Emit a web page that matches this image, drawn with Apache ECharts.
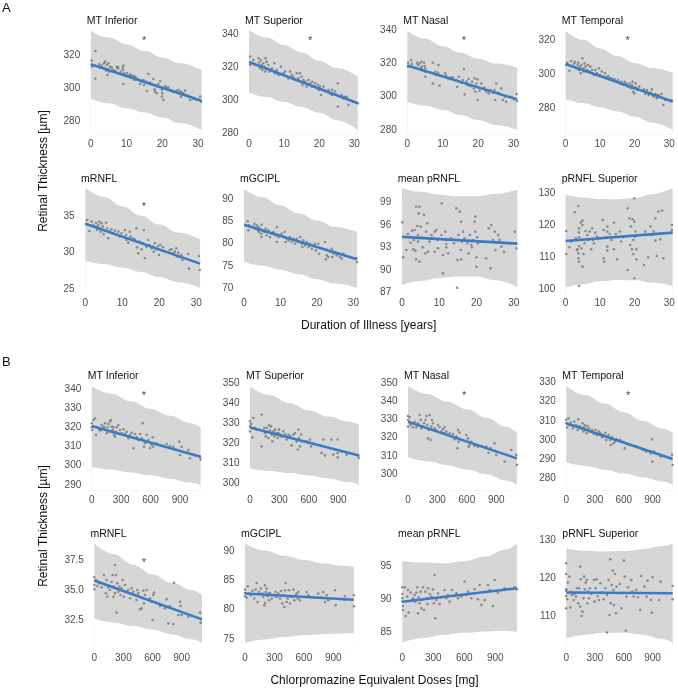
<!DOCTYPE html>
<html><head><meta charset="utf-8">
<script src="https://cdn.jsdelivr.net/npm/echarts@6/dist/echarts.min.js"></script>
<style>html,body{margin:0;padding:0;background:#fff}#c{width:678px;height:689px}</style>
</head><body><div id="c"></div>
<script>
// ---------- DATA ----------
const panelTitles = ['MT Inferior','MT Superior','MT Nasal','MT Temporal','mRNFL','mGCIPL','mean pRNFL','pRNFL Superior'];
const durTicks = [0,10,20,30];
const cpzTicks = [0,300,600,900];
const bandXDur = [0,5,10,15,20,25,31];
const bandXCpz = [0,200,400,600,800,1000,1110];
const yTicks = [
  [280,300,320],[280,300,320,340],[280,300,320,340],[280,300,320],
  [25,30,35],[70,75,80,85,90],[87,90,93,96,99],[100,110,120,130],
  [290,300,310,320,330,340],[300,310,320,330,340,350],[300,310,320,330,340,350],[280,290,300,310,320,330],
  [32.5,35.0,37.5],[75,80,85,90],[85,90,95],[110,120,130]
];
const stars = { 0:[14.9,330], 1:[17.4,337.6], 2:[16,335.2], 3:[18,320.9], 4:[15.8,36.6],
                8:[533,337.7], 10:[571,344.4], 11:[645,324.4], 12:[512,37.5] };

// A: Duration of illness
const a1Fit = [[0,314.5],[31,292.5]];
const a1Up = [334.6,330.5,326.5,322.5,318.5,315,311];
const a1Lo = [293.8,291,288,285.5,282.5,279,275];
const a1Pts = [[0.3,316.6],[0.4,313],[1.3,322.4],[1.3,305.8],[2.4,314.4],[2.6,312.4],[3.1,313.6],[3.7,315],[4.0,316],[4.1,312],[4.3,310.6],[4.5,314],[4.7,308],[4.9,311.4],[4.9,315],[5.2,310],[5.4,313],[5.9,312.4],[6.3,311],[6.8,310.4],[7.3,313],[7.5,312],[7.7,312.4],[8.4,310],[8.9,312.4],[9.1,313.6],[9.1,311],[9.1,302.6],[9.3,309],[10.1,309],[10.5,307.4],[11.0,308.2],[11.5,307.6],[11.9,307],[12.2,305],[12.4,307],[12.9,306],[13.8,305],[13.8,302.6],[14.3,304],[14.7,305],[14.9,302],[15.5,304],[15.7,298.4],[16.1,308.6],[16.6,303.4],[17.1,302.4],[17.5,305.6],[17.7,302],[17.8,299.4],[18.0,298],[18.5,301.4],[18.5,297],[18.9,302.6],[19.4,304.4],[19.6,300.6],[19.9,299],[19.9,295],[20.0,297],[20.3,293],[20.8,301.4],[21.2,300.4],[21.7,300.6],[22.4,299],[22.6,298.6],[23.1,297.8],[24.0,298.6],[24.5,299],[25.0,298],[25.2,295],[25.4,297.6],[25.9,297],[26.4,298.6],[26.8,296],[27.3,295],[27.8,293],[28.7,293.6],[29.6,293],[30.6,295],[30.8,292]];

const a2Fit = [[0,323.2],[31,298.2]];
const a2Up = [342.6,338,333.5,329,324,319.5,314.5];
const a2Lo = [304.8,302,299,296,292.5,288,282];
const a2Pts = [[0.3,326.5],[0.3,321.4],[1.2,324.4],[1.7,321.4],[2.7,325.5],[2.9,323],[3.1,319.4],[3.4,324.4],[3.6,321.4],[3.8,318.4],[4.1,322.4],[4.4,320.4],[4.6,317.4],[4.7,325.5],[5.0,323.4],[5.0,319.4],[5.5,321.4],[5.8,317.4],[6.5,319.4],[7.2,322.4],[7.4,316.4],[7.9,318.4],[8.4,315.4],[9.1,320.4],[9.8,316.4],[10.3,317.4],[11.2,313.3],[11.7,317.4],[12.2,315.4],[12.6,314.3],[13.1,312.3],[13.6,316.4],[14.1,313.3],[14.5,316.4],[15.0,314.3],[15.2,309.3],[15.5,312.3],[16.0,311.3],[16.4,308.3],[16.9,312.3],[17.4,310.3],[17.9,308.3],[18.0,311.3],[18.6,308.3],[18.8,310.3],[19.3,307.3],[19.6,309.3],[19.9,306.3],[20.2,308.3],[20.5,303.2],[21.2,308.3],[21.7,305.3],[22.6,306.3],[23.1,304.2],[23.6,303.2],[23.7,306.3],[24.5,305.3],[25.0,303.2],[25.3,310.3],[25.3,296.2],[25.9,302.2],[26.4,303.2],[26.9,301.2],[27.4,302.2],[27.8,302.2],[28.3,297.2],[29.7,299.2],[31.0,298.2]];

const a3Fit = [[0,318.8],[31,298.4]];
const a3Up = [339.8,335,330.5,326.5,323,320,317.7];
const a3Lo = [297,294.5,292,289,286,283,280];
const a3Pts = [[0.2,320.5],[0.2,318.1],[1.1,322.1],[1.3,319.7],[2.1,317.5],[2.8,320.5],[3.0,319.1],[3.5,320.1],[3.8,317.1],[4.0,321.1],[4.1,318.1],[4.4,316.1],[4.7,320.5],[4.9,318.5],[5.1,317.1],[5.1,315.1],[5.1,312.1],[7.2,320.5],[7.2,308],[7.9,315.1],[8.2,313.1],[8.7,314.5],[8.8,319.1],[9.1,306.8],[9.6,312.5],[10.7,314.1],[11.0,312.7],[11.5,311.1],[12.2,311.7],[12.9,311.7],[13.8,310.1],[14.1,306],[14.5,312.1],[15.2,308.5],[15.7,310.1],[16.0,316.7],[16.2,301.4],[16.7,309.1],[17.1,307],[17.3,310.7],[17.9,306.4],[18.3,309.1],[18.8,305],[19.0,311.1],[19.2,303],[19.5,308],[19.8,310.5],[19.9,298],[20.1,305.6],[20.4,303.6],[20.9,308],[21.8,305.6],[22.3,303],[23.0,302],[23.5,304],[24.2,302.4],[24.6,304],[24.8,298],[25.1,308],[25.6,302.4],[26.1,301.6],[26.5,305],[27.0,298],[27.5,300],[27.9,297],[29.4,300],[30.3,298.4],[30.9,301.6],[31.0,297.4]];

const a4Fit = [[0,305.9],[31,283.9]];
const a4Up = [325.3,320,315,310.5,306.5,303.5,300.8];
const a4Lo = [285.4,283,280.5,278,275,271.5,267.3];
const a4Pts = [[0.2,305.3],[0.5,306.6],[1.1,301.9],[1.6,307.6],[2.1,304.3],[2.5,306.2],[2.7,307.2],[3.3,303.3],[3.5,305.3],[3.7,306.6],[3.9,302.3],[4.2,304.3],[4.4,300.4],[4.6,305.3],[4.9,309.2],[5.2,303.3],[5.3,301.4],[5.5,306.2],[5.8,304.3],[6.3,302.3],[6.5,305.3],[7.0,301.4],[7.2,304.3],[7.7,302.3],[8.2,299.4],[8.6,302.3],[9.1,300.4],[9.6,303.3],[10.0,299.4],[10.5,301.4],[11.0,298.4],[11.4,300.4],[11.9,298.4],[12.4,298.8],[12.8,297.5],[13.3,297.5],[13.8,296.5],[14.2,296.9],[14.7,295.5],[15.2,296.5],[15.7,294.5],[16.1,295.5],[16.6,293.6],[17.1,295.5],[17.5,294.5],[18.0,292.6],[18.5,294.5],[18.9,291.6],[19.2,293.6],[19.4,295.5],[19.6,289.7],[19.9,288.7],[20.2,292.2],[20.3,294.5],[20.8,290.6],[21.3,292.6],[22.7,291],[23.1,288.3],[23.6,290.6],[24.1,287.7],[24.6,289.1],[25.0,291],[25.5,286.7],[26.0,288.3],[26.4,285.8],[26.9,287.7],[27.4,286.7],[27.8,288.3],[28.3,281.9],[28.8,284.8],[30.8,284.4]];

const a5Fit = [[0,33.9],[31,28.45]];
const a5Up = [38.8,37.6,36.3,35.0,33.8,32.7,31.8];
const a5Lo = [28.85,28.4,27.9,27.3,26.6,25.9,25.15];
const a5Pts = [[0.2,33.88],[0.5,34.43],[1.1,32.92],[1.7,34.2],[2.2,33.74],[2.9,34.06],[3.1,33.52],[3.2,33.06],[3.5,33.74],[3.8,34.2],[4.0,33.29],[4.1,32.83],[4.4,33.97],[4.7,33.52],[4.9,32.51],[5.0,33.06],[5.6,34.06],[5.9,33.29],[6.2,31.92],[6.6,32.83],[7.1,33.15],[7.5,32.6],[8.0,32.97],[8.4,32.37],[8.9,32.83],[9.3,32.15],[9.8,32.6],[10.7,33.06],[11.0,32.37],[11.1,31.69],[11.6,31.32],[12.0,32.83],[12.2,32.15],[12.8,31.92],[13.4,31.78],[13.8,33.29],[14.0,30.68],[14.3,29.86],[14.7,31.46],[15.2,30.41],[15.6,31.23],[15.8,33.06],[16.1,29.18],[16.5,30.78],[17.0,31.69],[17.4,31.0],[17.9,30.55],[18.3,30.78],[18.5,30.09],[18.8,31.23],[19.2,30.41],[19.7,30.87],[19.9,29.63],[20.3,31.0],[20.6,30.23],[21.0,30.68],[21.5,30.09],[22.8,30.32],[23.3,30.41],[23.7,29.86],[24.2,30.09],[24.6,30.55],[24.8,29.41],[25.1,29.95],[25.5,29.41],[26.0,29.63],[26.2,28.95],[27.8,29.77],[28.0,27.76],[30.7,29.5],[30.9,27.58]];

const a6Fit = [[0,84.3],[31,76.5]];
const a6Up = [92.4,90.5,88.6,86.8,85.2,83.8,82.6];
const a6Lo = [75.9,75.0,74.1,73.1,72.0,71.0,70.0];
const a6Pts = [[1.0,85.04],[1.2,83.01],[1.4,84.14],[2.6,83.76],[2.8,84.51],[3.0,83.38],[3.5,84.14],[3.8,83.01],[3.9,83.76],[4.1,82.63],[4.4,83.38],[4.7,82.26],[4.8,84.29],[4.8,81.5],[5.0,83.01],[5.6,82.63],[5.9,83.38],[6.2,81.88],[6.7,83.01],[7.1,81.5],[7.6,82.26],[8.1,82.63],[8.5,81.88],[9.0,83.76],[9.0,80.38],[9.4,81.5],[10.3,82.26],[10.8,81.5],[11.1,82.63],[11.4,80.38],[11.7,81.13],[12.2,80.75],[12.6,81.5],[13.1,80.38],[13.5,81.13],[14.0,80.0],[14.5,81.13],[14.9,80.38],[15.4,81.5],[15.8,80.0],[16.0,79.25],[16.3,80.75],[16.7,79.62],[17.2,80.38],[17.7,79.25],[18.1,80.0],[18.6,78.87],[19.0,79.62],[19.5,80.0],[19.7,78.5],[19.9,79.25],[20.4,80.0],[20.6,77.74],[22.2,80.38],[22.4,76.47],[22.7,77.37],[23.1,76.99],[23.6,78.12],[24.1,78.87],[24.2,76.99],[24.5,77.74],[25.0,78.12],[25.4,77.37],[25.9,77.74],[26.3,76.99],[26.8,76.62],[27.3,77.74],[30.8,76.77],[31.0,75.86]];

const a7Fit = [[0,94.4],[31,93.5]];
const a7Up = [100.9,100.4,100.0,99.8,99.8,100.1,100.7];
const a7Lo = [88.0,88.5,88.9,89.1,89.1,88.6,87.7];
const a7Pts = [[0.1,96.33],[0.3,91.67],[1.2,92.64],[1.6,94.78],[2.3,93.62],[2.7,95.22],[3.0,92.73],[3.2,93.98],[3.4,95.31],[3.6,92.56],[3.8,91.4],[3.8,98.42],[4.1,95.84],[4.3,94.64],[4.3,93.76],[4.5,97.53],[4.7,98.42],[4.7,91.09],[5.0,95.76],[5.2,94.33],[5.6,93.0],[5.9,97.31],[6.3,92.2],[6.5,95.09],[6.8,96.2],[7.0,92.42],[7.4,93.76],[7.9,94.64],[8.3,94.2],[8.8,95.09],[8.8,92.42],[9.2,95.31],[9.5,93.98],[9.7,92.87],[10.6,94.64],[10.7,98.87],[11.0,91.98],[11.0,89.53],[11.6,95.09],[11.9,93.98],[11.9,93.44],[11.9,93.0],[12.4,92.2],[13.2,94.2],[14.0,93.53],[14.6,98.2],[14.8,87.62],[14.9,91.31],[15.2,94.64],[15.5,97.76],[15.8,92.64],[15.9,96.42],[15.9,91.4],[16.1,93.76],[16.4,95.09],[16.8,94.2],[17.5,93.53],[17.9,92.2],[18.2,94.64],[18.6,93.31],[18.8,93.0],[19.1,93.98],[19.5,96.42],[19.7,97.09],[19.7,95.09],[20.0,90.42],[20.0,91.67],[20.2,94.33],[20.4,93.53],[22.6,91.53],[23.3,95.53],[23.8,90.2],[24.0,95.98],[24.4,93.98],[24.9,95.09],[25.1,92.64],[25.8,94.64],[26.2,93.98],[26.7,93.09],[27.4,92.42],[30.3,95.09],[30.7,92.87]];

const a8Fit = [[0,115.1],[31,117.7]];
const a8Up = [129.5,128.7,128.2,128.1,128.5,129.7,131.6];
const a8Lo = [100.5,101.6,102.5,102.9,102.8,102.1,101.0];
const a8Pts = [[0.2,118.23],[0.2,111.04],[1.1,113.13],[1.6,114.9],[2.7,124.06],[3.0,115.94],[3.3,112.29],[3.5,112.5],[3.7,111.25],[3.7,109.69],[3.7,126.04],[3.9,119.06],[3.9,117.71],[3.9,116.25],[3.9,113.54],[3.9,108.65],[3.9,101.04],[4.4,120.83],[4.6,112.81],[4.9,121.46],[4.9,120.1],[4.9,107.08],[5.2,111.04],[5.5,114.38],[5.8,118.23],[6.3,116.98],[6.5,115.42],[7.0,118.02],[7.4,112.5],[7.7,119.06],[8.0,115.42],[8.2,114.38],[8.6,117.71],[9.1,116.46],[9.6,115.94],[10.8,121.67],[11.0,118.54],[11.0,109.69],[11.2,108.65],[11.9,116.25],[12.1,119.58],[12.1,118.02],[12.1,113.33],[12.1,112.08],[12.8,117.29],[13.3,115.42],[14.0,120.83],[14.0,112.5],[14.5,117.29],[14.9,109.38],[15.7,118.02],[16.1,114.9],[16.6,116.25],[18.0,125.31],[18.0,106.04],[18.5,122.19],[18.7,113.85],[18.9,119.58],[19.2,112.5],[19.4,121.88],[19.6,115.42],[19.6,111.04],[19.9,121.15],[19.9,128.44],[19.9,103.44],[20.1,116.46],[20.3,118.02],[20.5,112.5],[20.5,109.38],[22.7,107.6],[23.1,118.02],[23.9,110.0],[24.6,119.58],[25.0,116.98],[25.5,118.02],[26.0,122.19],[26.0,115.21],[26.4,110.42],[26.9,124.27],[27.4,115.63],[28.0,124.58],[28.3,109.69],[30.8,120.1],[30.8,118.54]];

// B: Chlorpromazine equivalent doses
const b1Fit = [[0,320.7],[1110,304.7]];
const b1Up = [341.5,337.5,333.5,329.5,326,322.3,320];
const b1Lo = [299.5,298,296.5,295,293.2,291.2,289.8];
const b1Pts = [[0,322.1],[0,320],[3,318.6],[17,323.8],[34,324.7],[44,316],[58,320],[78,318.6],[92,318.3],[102,321.2],[119,320],[126,320.3],[136,322.1],[146,318.6],[153,316.9],[160,320],[170,321.7],[180,317.7],[187,323],[194,323.8],[204,320.3],[214,318.6],[221,320],[228,316],[238,315.1],[248,317.7],[255,320],[272,321.2],[289,318.6],[306,316.9],[323,319],[340,316.5],[357,317.7],[374,314.3],[391,316],[408,317.2],[425,309.1],[442,316.5],[459,314.8],[476,313.4],[493,316.5],[510,314.3],[520,322.1],[527,313.4],[533,309.9],[543,311.7],[560,316],[577,313.4],[594,309.1],[611,310.8],[622,314.8],[628,309.9],[662,311.7],[696,310.8],[730,310.3],[764,311.3],[798,310.3],[832,309.9],[866,308.2],[893,312.5],[900,305.6],[917,309.9],[985,308.2],[1002,303.9],[1104,304.7],[1110,303.3]];

const b2Fit = [[0,327.8],[1110,313.8]];
const b2Up = [348.3,344,340,336.3,333.2,330.7,329.2];
const b2Lo = [307.2,306,305,303.8,302.3,300.5,299.2];
const b2Pts = [[0,330.8],[0,328.3],[0,325.8],[10,329.5],[24,322.8],[34,332.5],[51,327.5],[68,326.7],[119,334.2],[119,318.3],[146,327.5],[153,325],[160,323.3],[170,327.5],[187,322.5],[194,328.8],[204,326.2],[214,328.3],[221,324.2],[228,320.8],[238,325.8],[248,323.3],[255,326.7],[272,325],[282,322.5],[289,325],[296,326.7],[306,324.2],[323,323.3],[340,325.8],[357,324.2],[374,321.7],[391,324.2],[408,323.3],[425,318.8],[442,324.2],[459,325],[476,320.8],[486,316.7],[493,326.7],[499,322.5],[510,318.3],[520,324.2],[527,320.8],[577,320.8],[594,320],[611,321.7],[622,318.3],[635,320],[730,315],[747,321.7],[764,313.8],[832,321.7],[849,314.2],[893,321.7],[893,315],[893,312.8],[934,315.8],[985,314.2],[1104,313.8],[1110,312.5]];

const b3Fit = [[0,328.8],[1110,308.6]];
const b3Up = [348.4,344,339.8,335.7,331,326,322.8];
const b3Lo = [309.2,307,304.8,302.4,299.8,296.4,294];
const b3Pts = [[0,331.9],[0,329.7],[0,326.1],[17,331.2],[27,327],[51,325.7],[68,328.8],[85,325.7],[102,327.9],[119,332.5],[129,329.7],[136,325.1],[153,326.1],[163,327.9],[177,329.7],[187,331.9],[197,327],[204,319.6],[211,324.2],[221,332.5],[231,318.7],[238,326.1],[245,329.7],[255,327.9],[272,325.1],[289,324.2],[306,327],[323,325.7],[340,323.3],[357,324.6],[367,322.4],[374,325.7],[391,323.3],[408,321.5],[425,322.4],[442,320.6],[459,322],[476,319.1],[493,320.6],[503,314.1],[510,324.2],[516,317.8],[526,322.8],[594,321.5],[611,319.6],[618,315],[628,316],[645,317.8],[679,315.4],[713,315],[747,315.4],[798,315],[822,311.7],[842,314.1],[883,316.9],[900,310.5],[985,306.8],[1053,313.2],[1104,310.5],[1110,305]];

const b4Fit = [[0,308.7],[1110,290]];
const b4Up = [328.2,323.5,319,314.5,310,306,303.8];
const b4Lo = [288.3,286.4,284.5,282.5,280.5,278.3,276.5];
const b4Pts = [[0,310.5],[0,308.7],[10,306.6],[24,311.3],[34,307.8],[51,309.1],[68,306.1],[85,309.6],[102,307.8],[119,305.2],[126,310.8],[136,307.3],[153,306.6],[170,308.7],[180,304.4],[187,306.6],[194,307.8],[204,305.6],[214,303.5],[221,307.3],[238,306.1],[255,304.4],[272,305.2],[289,303.1],[306,305.2],[323,302.6],[340,304.4],[357,303.5],[374,301.4],[391,302.6],[408,303.8],[418,300],[425,301.7],[442,302.6],[459,300],[465,297.4],[476,301.4],[493,298.3],[510,299.1],[526,300.3],[560,300],[594,299.1],[611,295.6],[628,298.3],[662,297.4],[730,296.5],[798,294.8],[832,293.9],[883,293],[893,300.3],[900,288.7],[917,293.9],[985,291.3],[1104,292.2],[1110,286.9]];

const b5Fit = [[0,35.8],[1110,32.55]];
const b5Up = [38.9,38.0,37.1,36.3,35.6,35.0,34.6];
const b5Lo = [32.6,32.3,32.0,31.7,31.3,30.9,30.6];
const b5Pts = [[0,36.06],[0,35.42],[0,35.06],[17,35.83],[31,35.33],[52,35.56],[76,35.22],[100,36.25],[110,35.42],[120,34.72],[127,35.83],[134,34.44],[144,35.22],[161,35.0],[179,35.69],[189,36.25],[196,34.44],[203,35.28],[213,37.08],[213,34.72],[223,36.25],[230,33.11],[237,35.56],[247,34.86],[258,35.28],[271,34.58],[282,35.14],[292,35.83],[306,34.44],[316,35.42],[333,34.86],[350,35.0],[368,34.31],[385,35.14],[402,34.86],[419,34.58],[436,34.17],[443,35.0],[453,34.72],[471,33.39],[488,33.47],[498,34.31],[505,34.94],[512,33.89],[522,34.58],[539,35.0],[557,34.17],[574,34.31],[591,34.03],[601,32.5],[608,34.58],[615,34.78],[642,33.89],[677,33.67],[728,33.47],[745,34.22],[763,32.22],[780,33.67],[814,32.17],[821,35.61],[866,32.92],[883,34.03],[890,33.67],[900,32.92],[969,32.78],[1089,33.11],[1096,32.28]];

const b6Fit = [[0,82.75],[1110,81.7]];
const b6Up = [91.3,90.1,89.2,88.5,87.9,87.5,87.3];
const b6Lo = [74.3,74.9,75.3,75.6,75.8,75.9,76.0];
const b6Pts = [[0,83.42],[0,82.85],[0,82.28],[17,82.05],[27,83.99],[41,82.74],[61,82.45],[75,83.19],[95,81.88],[109,83.42],[119,84.56],[129,81.31],[143,83.02],[163,83.59],[177,82.74],[187,82.17],[197,80.74],[204,84.16],[204,81.14],[211,83.02],[221,83.59],[231,82.28],[238,82.74],[245,81.6],[255,82.85],[272,81.88],[299,82.45],[312,83.02],[323,82.17],[340,82.74],[357,81.88],[367,83.19],[380,81.03],[391,82.45],[401,80.46],[408,83.3],[414,84.56],[425,81.31],[435,81.88],[448,83.3],[459,81.03],[476,82.17],[493,83.42],[503,81.6],[516,82.45],[527,82.74],[537,81.88],[544,83.02],[560,81.6],[611,82.17],[628,83.02],[645,82.45],[747,82.74],[781,82.05],[798,83.02],[815,81.31],[832,82.45],[849,81.6],[917,83.3],[924,80.74],[1012,81.71],[1019,82.28],[1110,82.45],[1110,80.57]];

const b7Fit = [[0,89.64],[1110,91.68]];
const b7Up = [95.85,95.6,95.5,95.8,96.5,97.6,98.5];
const b7Lo = [83.4,84.1,84.6,84.9,85.1,85.2,85.0];
const b7Pts = [[0,91.83],[0,90.81],[0,90.15],[0,89.64],[6,88.98],[6,88.38],[23,91.83],[32,87.46],[48,90.41],[55,91.42],[61,87.97],[81,91.02],[94,89.9],[103,90.15],[119,90.66],[126,89.64],[135,91.02],[145,91.83],[152,87.87],[158,90.3],[168,89.39],[177,91.17],[184,88.63],[190,89.9],[200,91.83],[210,88.38],[223,91.17],[232,90.15],[242,89.29],[248,91.68],[265,90.81],[281,90.41],[297,91.52],[306,89.39],[313,93.71],[319,87.11],[329,89.9],[345,90.91],[361,89.29],[377,90.3],[410,91.42],[426,90.15],[442,90.66],[458,89.64],[481,91.42],[506,90.51],[523,90.91],[539,90.15],[571,90.41],[603,92.69],[619,90.66],[635,91.17],[668,90.15],[700,91.52],[732,90.0],[748,92.18],[765,89.14],[797,89.9],[829,92.18],[845,91.42],[877,88.98],[894,92.94],[926,91.02],[958,91.42],[990,91.68],[1087,91.83],[1110,91.52]];

const b8Fit = [[0,116.3],[1110,116.1]];
const b8Up = [127.8,127.2,127.0,127.1,127.6,128.4,129.1];
const b8Lo = [104.35,105.3,105.8,105.8,105.3,104.2,103.2];
const b8Pts = [[0,123.91],[0,121.13],[0,117.13],[0,116.78],[0,115.39],[0,112.17],[10,114.52],[17,118.87],[34,120.43],[44,112.35],[51,116.52],[58,115.65],[78,114.35],[85,115.91],[102,115.22],[112,117.39],[119,116.26],[126,113.48],[136,117.39],[146,123.04],[146,112.61],[153,119.74],[160,110.17],[170,111.3],[180,114.78],[187,120.43],[194,117.13],[204,118.87],[214,119.57],[221,113.48],[228,116.52],[238,114.78],[248,117.39],[262,115.91],[289,119.57],[296,113.91],[306,117.39],[316,119.74],[329,115.39],[340,114.35],[357,118.7],[374,116.26],[391,114.52],[408,117.39],[425,115.65],[425,105.83],[442,119.57],[452,110.43],[459,124.96],[465,113.48],[476,118.26],[486,122.0],[493,116.96],[499,113.04],[510,121.13],[520,110.87],[526,117.83],[533,116.09],[560,118.52],[577,112.17],[601,124.61],[611,120.43],[622,106.35],[628,115.22],[645,117.65],[679,119.57],[690,116.52],[703,115.22],[730,116.96],[747,115.04],[771,111.74],[781,120.61],[815,117.83],[839,115.22],[849,119.39],[883,114.35],[893,111.04],[900,120.26],[968,114.35],[985,119.13],[1110,118.0],[1110,114.52]];

// ---------- LAYOUT (pixels) : left, top, width, height, yMin, yMax ----------
const layout = [
  [85.2,26,122.0,108.5,272.3,337.4],[243.6,26,119.7,108.5,279.3,345.0],[401.8,26,120.8,108.5,277.2,342.7],[560.2,26,121.3,108.5,264.6,328.1],
  [79.6,183,126.2,110,24.42,39.5],[238.4,183,124.3,110,68.87,93.7],[396.2,183,127.0,110,86.91,101.58],[560.2,183,121.3,110,98.85,133.2],
  [86.25,381,119.8,109.5,287.1,344.1],[244.55,381,119.8,109.5,296.25,351.0],[402.55,381,119.8,109.5,290.9,351.2],[560.85,381,119.8,109.5,273.6,330.8],
  [88.9,538.3,118.5,110,30.14,39.31],[239.55,538.3,119.8,110,73.39,92.19],[396.6,538.3,126.1,110,82.54,99.29],[560.85,538.3,119.8,110,101.74,130.43]
];
const titleY = [20.7,179,376,534];

const panels = [
  [a1Pts,a1Fit,a1Up,a1Lo],[a2Pts,a2Fit,a2Up,a2Lo],[a3Pts,a3Fit,a3Up,a3Lo],[a4Pts,a4Fit,a4Up,a4Lo],
  [a5Pts,a5Fit,a5Up,a5Lo],[a6Pts,a6Fit,a6Up,a6Lo],[a7Pts,a7Fit,a7Up,a7Lo],[a8Pts,a8Fit,a8Up,a8Lo],
  [b1Pts,b1Fit,b1Up,b1Lo],[b2Pts,b2Fit,b2Up,b2Lo],[b3Pts,b3Fit,b3Up,b3Lo],[b4Pts,b4Fit,b4Up,b4Lo],
  [b5Pts,b5Fit,b5Up,b5Lo],[b6Pts,b6Fit,b6Up,b6Lo],[b7Pts,b7Fit,b7Up,b7Lo],[b8Pts,b8Fit,b8Up,b8Lo]
];

// ---------- BUILD ----------
const FONT = '"Liberation Sans", Arial, sans-serif';
const TICKC = '#4d4d4d';
const BAND = '#d6d6d6';
const grids = [], xAxes = [], yAxes = [], series = [], graphics = [];

panels.forEach((p, i) => {
  const L = layout[i];
  const isB = i >= 8;
  const bx = isB ? bandXCpz : bandXDur;
  grids.push({ left: L[0], top: L[1], width: L[2], height: L[3] });
  xAxes.push({
    type: 'value', gridIndex: i,
    min: isB ? -55.5 : -1.55, max: isB ? 1165.5 : 32.55,
    axisLine: { show: false }, axisTick: { show: false }, splitLine: { show: false },
    axisLabel: { customValues: isB ? cpzTicks : durTicks, color: TICKC, fontSize: 10, fontFamily: FONT, margin: 5 }
  });
  yAxes.push({
    type: 'value', gridIndex: i, min: L[4], max: L[5],
    axisLine: { show: false }, axisTick: { show: false }, splitLine: { show: false },
    axisLabel: { customValues: yTicks[i], color: TICKC, fontSize: 10, fontFamily: FONT, margin: 5,
      formatter: v => (i === 12 ? Number(v).toFixed(1) : String(v)) }
  });
  // band: upper filled grey to axis start, lower masked in white
  series.push({
    type: 'line', xAxisIndex: i, yAxisIndex: i, silent: true, symbol: 'none', smooth: 0.4, smoothMonotone: 'x',
    data: bx.map((x, k) => [x, p[2][k]]), lineStyle: { width: 0, color: BAND },
    areaStyle: { color: BAND, opacity: 1, origin: 'start' }, z: 1
  });
  series.push({
    type: 'line', xAxisIndex: i, yAxisIndex: i, silent: true, symbol: 'none', smooth: 0.4, smoothMonotone: 'x',
    data: bx.map((x, k) => [x, p[3][k]]), lineStyle: { width: 0, color: '#ffffff' },
    areaStyle: { color: '#ffffff', opacity: 1, origin: 'start' }, z: 2
  });
  series.push({
    type: 'scatter', xAxisIndex: i, yAxisIndex: i, silent: true, symbol: 'circle', symbolSize: 2.6,
    data: p[0], itemStyle: { color: '#777777' }, z: 3
  });
  series.push({
    type: 'line', xAxisIndex: i, yAxisIndex: i, silent: true, symbol: 'none',
    data: p[1], lineStyle: { width: 2.6, color: '#3a7bc8' }, z: 4
  });
  if (stars[i]) {
    series.push({
      type: 'scatter', xAxisIndex: i, yAxisIndex: i, silent: true, symbolSize: 1,
      itemStyle: { color: 'rgba(0,0,0,0)' }, data: [stars[i]],
      label: { show: true, position: 'inside', formatter: '*', color: '#111', fontSize: 11, fontFamily: FONT, offset: [0, 3] }, z: 5
    });
  }
  graphics.push({
    type: 'text', x: L[0] + 1.5, y: titleY[Math.floor(i / 4)], silent: true,
    style: { text: panelTitles[i % 8], fill: '#111', font: '10.5px ' + FONT, align: 'left', verticalAlign: 'middle' }
  });
});

graphics.push(
  { type: 'text', x: 2, y: 8, style: { text: 'A', fill: '#111', font: '13px ' + FONT, align: 'left', verticalAlign: 'middle' } },
  { type: 'text', x: 2, y: 362, style: { text: 'B', fill: '#111', font: '13px ' + FONT, align: 'left', verticalAlign: 'middle' } },
  { type: 'text', x: 368.7, y: 325.7, style: { text: 'Duration of Illness [years]', fill: '#111', font: '12px ' + FONT, align: 'center', verticalAlign: 'middle' } },
  { type: 'text', x: 374.5, y: 681, style: { text: 'Chlorpromazine Equivalent Doses [mg]', fill: '#111', font: '12px ' + FONT, align: 'center', verticalAlign: 'middle' } },
  { type: 'text', x: 44, y: 171, rotation: Math.PI / 2, style: { text: 'Retinal Thickness [µm]', fill: '#111', font: '12px ' + FONT, align: 'center', verticalAlign: 'middle' } },
  { type: 'text', x: 44, y: 526, rotation: Math.PI / 2, style: { text: 'Retinal Thickness [µm]', fill: '#111', font: '12px ' + FONT, align: 'center', verticalAlign: 'middle' } }
);

const chart = echarts.init(document.getElementById('c'), null, { renderer: 'canvas' });
chart.setOption({
  animation: false, backgroundColor: '#ffffff',
  grid: grids, xAxis: xAxes, yAxis: yAxes, series: series, graphic: graphics
});
</script></body></html>
